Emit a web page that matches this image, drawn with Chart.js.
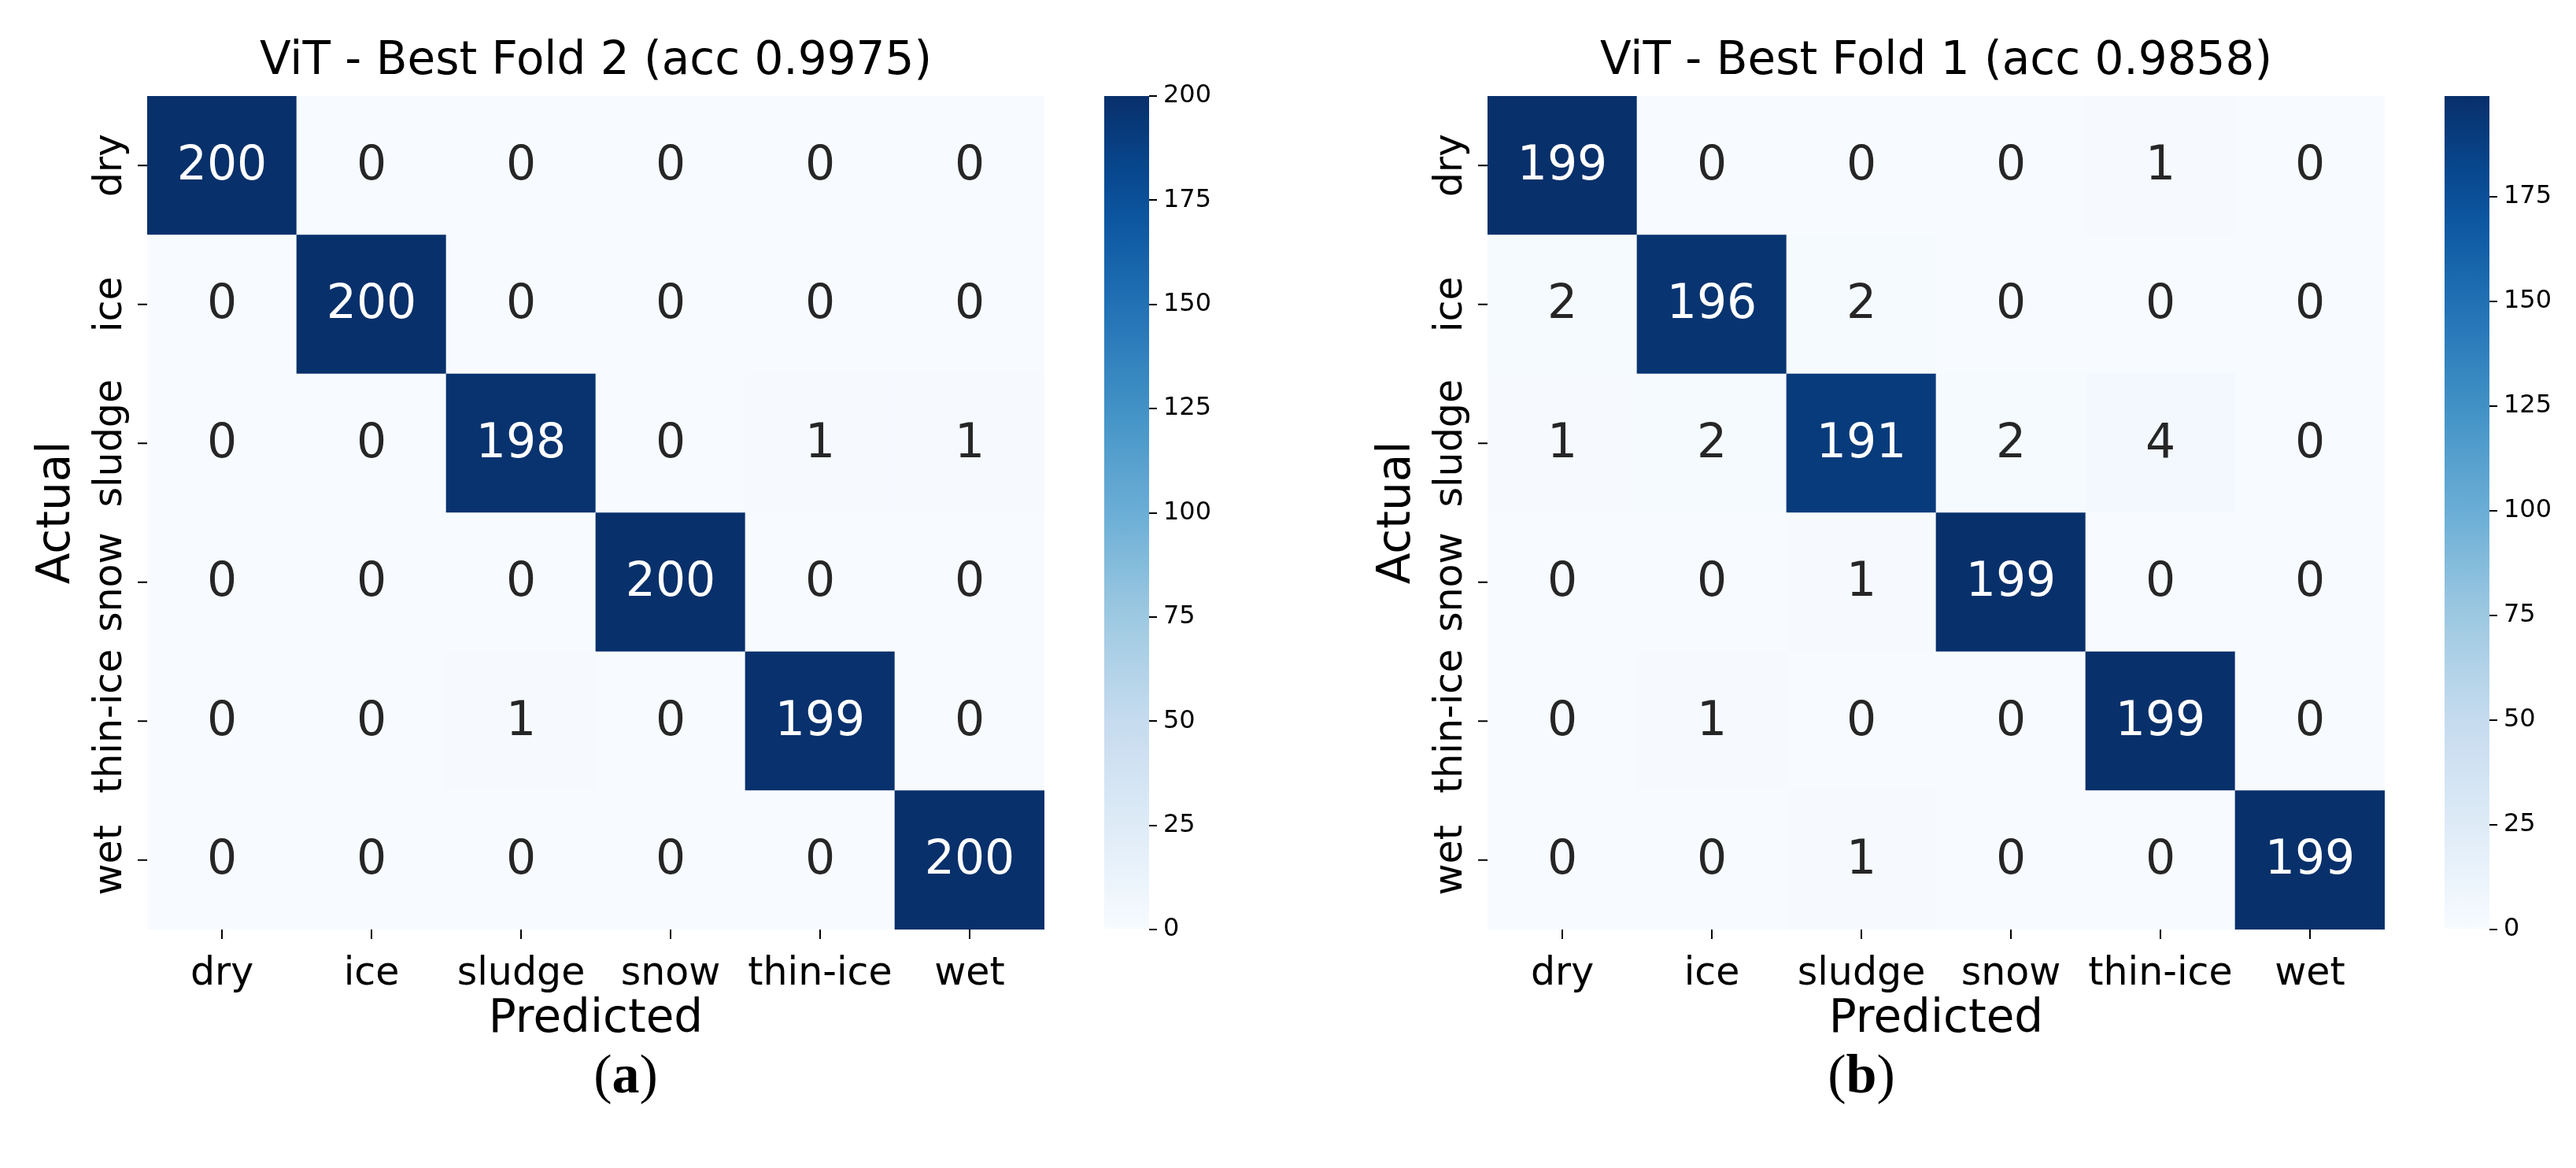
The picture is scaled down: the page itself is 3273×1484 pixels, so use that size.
<!DOCTYPE html>
<html><head><meta charset="utf-8">
<script src="https://cdn.jsdelivr.net/npm/chart.js@4.4.0/dist/chart.umd.min.js"></script>
<style>
html,body{margin:0;padding:0;background:#fff;width:3273px;height:1484px;overflow:hidden;position:relative;font-family:"DejaVu Sans";}
.box{position:absolute;}
.cap{position:absolute;font-family:"Liberation Serif",serif;font-size:70px;transform:translateX(-50%);top:1325px;}
</style></head><body>
<script>
const classes = ["dry","ice","sludge","snow","thin-ice","wet"];
const cmA = [
 [200,0,0,0,0,0],
 [0,200,0,0,0,0],
 [0,0,198,0,1,1],
 [0,0,0,200,0,0],
 [0,0,1,0,199,0],
 [0,0,0,0,0,200]];
const cmB = [
 [199,0,0,0,1,0],
 [2,196,2,0,0,0],
 [1,2,191,2,4,0],
 [0,0,1,199,0,0],
 [0,1,0,0,199,0],
 [0,0,1,0,0,199]];
const titleA = "ViT - Best Fold 2 (acc 0.9975)";
const titleB = "ViT - Best Fold 1 (acc 0.9858)";
const vmaxA = 200, vmaxB = 199;
const cbTicks = [0,25,50,75,100,125,150,175,200];

const blues = ["#f7fbff","#deebf7","#c6dbef","#9ecae1","#6baed6","#4292c6","#2171b5","#08519c","#08306b"];
function hex(h){return [1,3,5].map(i=>parseInt(h.substr(i,2),16));}
function cmap(t){
  t=Math.max(0,Math.min(1,t)); const p=t*8, i=Math.min(7,Math.floor(p)), f=p-i;
  const a=hex(blues[i]), b=hex(blues[i+1]);
  return `rgb(${a.map((v,k)=>Math.round(v+(b[k]-v)*f)).join(",")})`;
}
const FONT = "DejaVu Sans";

function panel(ox, cm, vmax, title){
  const d1=document.createElement('div'); d1.className='box';
  d1.style.cssText=`left:${ox}px;top:0;width:1340px;height:1484px`;
  const c1=document.createElement('canvas'); d1.appendChild(c1); document.body.appendChild(d1);
  const datasets=[];
  for(let k=0;k<6;k++){
    const r=5-k;
    datasets.push({data:classes.map(()=>1), backgroundColor:cm[r].map(v=>cmap(v/vmax)), borderWidth:0,
      barPercentage:1, categoryPercentage:1, rowVals:cm[r]});
  }
  const textPlugin={id:'txt', afterDraw(ch){
    const ctx=ch.ctx; const xs=ch.scales.x, ys=ch.scales.y, ca=ch.chartArea;
    ctx.save(); ctx.font=`60px "${FONT}"`; ctx.textAlign='center'; ctx.textBaseline='middle';
    ch.data.datasets.forEach((ds,k)=>{
      ds.rowVals.forEach((v,c)=>{
        ctx.fillStyle = v/vmax>0.5 ? '#ffffff' : '#262626';
        ctx.fillText(String(v), xs.getPixelForValue(c), ys.getPixelForValue(k+0.5)+2);
      });
    });
    ctx.fillStyle='#000';
    ctx.font=`58px "${FONT}"`;
    ctx.fillText(title,(ca.left+ca.right)/2,79);
    ctx.fillText('Predicted',(ca.left+ca.right)/2,1296);
    ctx.font=`49px "${FONT}"`;
    ctx.strokeStyle='#000'; ctx.lineWidth=2;
    for(let k=0;k<6;k++){
      const y=ys.getPixelForValue(k+0.5);
      ctx.beginPath(); ctx.moveTo(ca.left-12,y); ctx.lineTo(ca.left,y); ctx.stroke();
      ctx.save(); ctx.translate(ca.left-46,y); ctx.rotate(-Math.PI/2);
      ctx.fillText(classes[5-k],0,0); ctx.restore();
      const x=xs.getPixelForValue(k);
      ctx.beginPath(); ctx.moveTo(x,ca.bottom); ctx.lineTo(x,ca.bottom+12); ctx.stroke();
    }
    ctx.font=`58px "${FONT}"`;
    ctx.save(); ctx.translate(ca.left-114,(ca.top+ca.bottom)/2); ctx.rotate(-Math.PI/2);
    ctx.fillText('Actual',0,0); ctx.restore();
    ctx.restore();
  }};
  new Chart(c1,{type:'bar',data:{labels:classes,datasets},
    options:{responsive:true,maintainAspectRatio:false,animation:false,
      layout:{padding:{left:0,right:13,top:122,bottom:113}},
      plugins:{legend:{display:false},tooltip:{enabled:false}},
      scales:{
        x:{stacked:true,grid:{display:false,tickLength:12},border:{display:false},
           ticks:{color:'#000',font:{family:FONT,size:49},padding:16,maxRotation:0},
           afterFit(s){s.height=190;}},
        y:{stacked:true,min:0,max:6,grid:{display:false},border:{display:false},
           ticks:{display:false},
           afterFit(s){s.width=187;}}
      }},plugins:[textPlugin]});

  const d2=document.createElement('div'); d2.className='box';
  d2.style.cssText=`left:${ox+1340}px;top:0;width:300px;height:1484px`;
  const c2=document.createElement('canvas'); d2.appendChild(c2); document.body.appendChild(d2);
  new Chart(c2,{type:'bar',data:{labels:['cb'],datasets:[{data:[vmax],borderWidth:0,barPercentage:1,categoryPercentage:1,
      backgroundColor(ctx){const ca=ctx.chart.chartArea; if(!ca) return blues[8];
        const g=ctx.chart.ctx.createLinearGradient(0,ca.bottom,0,ca.top);
        for(let i=0;i<=20;i++) g.addColorStop(i/20,cmap(i/20)); return g;}}]},
    options:{responsive:true,maintainAspectRatio:false,animation:false,
      layout:{padding:{left:63,right:0,top:122,bottom:303}},
      plugins:{legend:{display:false},tooltip:{enabled:false}},
      scales:{x:{display:false},
        y:{position:'right',min:0,max:vmax,grid:{display:true,drawOnChartArea:false,tickLength:10,color:'#000',lineWidth:2},border:{display:false},
          afterBuildTicks(s){s.ticks=cbTicks.filter(v=>v<=vmax).map(v=>({value:v}));},
          ticks:{color:'#000',font:{family:FONT,size:32},padding:8},
          afterFit(s){s.width=180;}}}}});
}
panel(0,cmA,vmaxA,titleA);
panel(1703,cmB,vmaxB,titleB);
const ca=document.createElement('div'); ca.className='cap'; ca.style.left='795px'; ca.innerHTML='(<b>a</b>)'; document.body.appendChild(ca);
const cb=document.createElement('div'); cb.className='cap'; cb.style.left='2365px'; cb.innerHTML='(<b>b</b>)'; document.body.appendChild(cb);
</script>
</body></html>
